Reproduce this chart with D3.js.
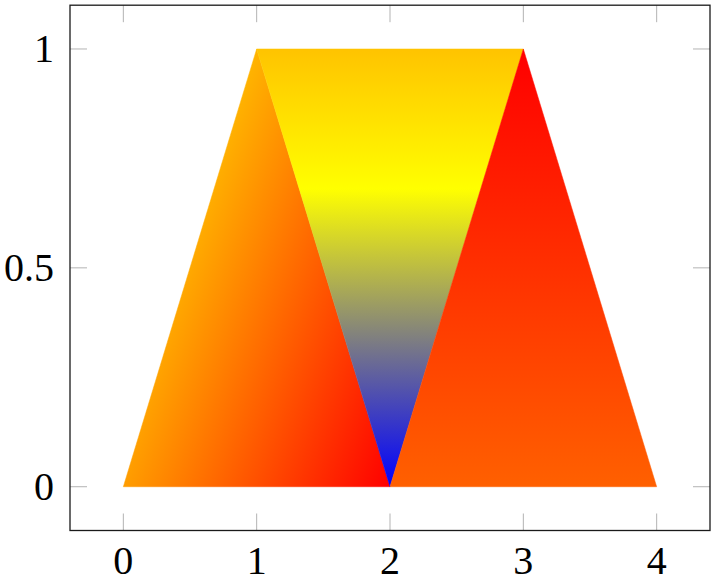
<!DOCTYPE html>
<html>
<head>
<meta charset="utf-8">
<script src="https://cdn.jsdelivr.net/npm/d3@7"></script>
<style>
  body { margin: 0; background: #fff; }
  svg text { font-family: "Liberation Serif", "DejaVu Serif", serif; font-size: 40px; fill: #000; }
</style>
</head>
<body>
<div id="chart"></div>
<script>
// patch plot: three triangles, one colour value per vertex (shader = interp)
var patchX = [[0, 1, 2], [1, 2, 3], [2, 3, 4]]
var patchY = [[0, 1, 0], [1, 0, 1], [0, 1, 0]]
var patchMeta = [[0.59, 0.53, 1], [0.49, 0, 0.49], [0.75, 1, 0.75]]

// colormap "hot"
var cmapPos = [0, 1/3, 2/3, 1]
var cmapColors = ['#0000ff', '#ffff00', '#ff8000', '#ff0000']

var xTicks = [0, 1, 2, 3, 4]
var yTicks = [0, 0.5, 1]
var yTickLabels = ['0', '0.5', '1']

const W = 716, H = 578
const box = { left: 70, right: 710, top: 5.2, bottom: 530.5 }

const x = d3.scaleLinear().domain([-0.4, 4.4]).range([box.left, box.right])
const y = d3.scaleLinear().domain([-0.1, 1.1]).range([box.bottom, box.top])
const allMeta = patchMeta.flat()
const meta = d3.scaleLinear().domain(d3.extent(allMeta)).range([0, 1])

var svg = d3.select('#chart').append('svg')
    .attr('width', W)
    .attr('height', H)

var defs = svg.append('defs')

var tris = patchX.map((xs, i) => xs.map((xv, j) => ({
    px: x(xv), py: y(patchY[i][j]), v: meta(patchMeta[i][j])
})))

// a linear scalar field over a triangle = a linear gradient along its gradient direction
tris.forEach((t, i) => {
    var e1x = t[1].px - t[0].px, e1y = t[1].py - t[0].py
    var e2x = t[2].px - t[0].px, e2y = t[2].py - t[0].py
    var d1 = t[1].v - t[0].v, d2 = t[2].v - t[0].v
    var det = e1x * e2y - e1y * e2x
    var gx = (d1 * e2y - d2 * e1y) / det
    var gy = (e1x * d2 - e2x * d1) / det
    var g2 = gx * gx + gy * gy
    var s0 = (0 - t[0].v) / g2, s1 = (1 - t[0].v) / g2
    var grad = defs.append('linearGradient')
        .attr('id', 'tri' + i)
        .attr('gradientUnits', 'userSpaceOnUse')
        .attr('x1', t[0].px + gx * s0).attr('y1', t[0].py + gy * s0)
        .attr('x2', t[0].px + gx * s1).attr('y2', t[0].py + gy * s1)
    grad.selectAll('stop')
        .data(cmapPos)
        .enter()
        .append('stop')
        .attr('offset', d => d)
        .attr('stop-color', (d, k) => cmapColors[k])
})

svg.append('g').selectAll('path')
    .data(tris)
    .enter()
    .append('path')
    .attr('d', t => 'M' + t.map(p => p.px + ',' + p.py).join('L') + 'Z')
    .attr('fill', (t, i) => 'url(#tri' + i + ')')
    .attr('stroke', (t, i) => 'url(#tri' + i + ')')
    .attr('stroke-width', 0.5)
    .attr('stroke-linejoin', 'miter')

// ticks, inside on all four sides
var tickLen = 17
var ticks = svg.append('g').attr('stroke', '#b3b3b3').attr('stroke-width', 1)
xTicks.forEach(v => {
    ticks.append('line').attr('x1', x(v)).attr('x2', x(v)).attr('y1', box.bottom).attr('y2', box.bottom - tickLen)
    ticks.append('line').attr('x1', x(v)).attr('x2', x(v)).attr('y1', box.top).attr('y2', box.top + tickLen)
})
yTicks.forEach(v => {
    ticks.append('line').attr('y1', y(v)).attr('y2', y(v)).attr('x1', box.left).attr('x2', box.left + tickLen)
    ticks.append('line').attr('y1', y(v)).attr('y2', y(v)).attr('x1', box.right).attr('x2', box.right - tickLen)
})

svg.append('rect')
    .attr('x', box.left).attr('y', box.top)
    .attr('width', box.right - box.left).attr('height', box.bottom - box.top)
    .attr('fill', 'none').attr('stroke', '#1a1a1a').attr('stroke-width', 1.3)

svg.append('g').selectAll('text')
    .data(xTicks)
    .enter()
    .append('text')
    .attr('x', d => x(d))
    .attr('y', 574)
    .attr('text-anchor', 'middle')
    .text(d => d)

svg.append('g').selectAll('text')
    .data(yTicks)
    .enter()
    .append('text')
    .attr('x', 54)
    .attr('y', d => y(d) + 13.5)
    .attr('text-anchor', 'end')
    .text((d, i) => yTickLabels[i])
</script>
</body>
</html>
